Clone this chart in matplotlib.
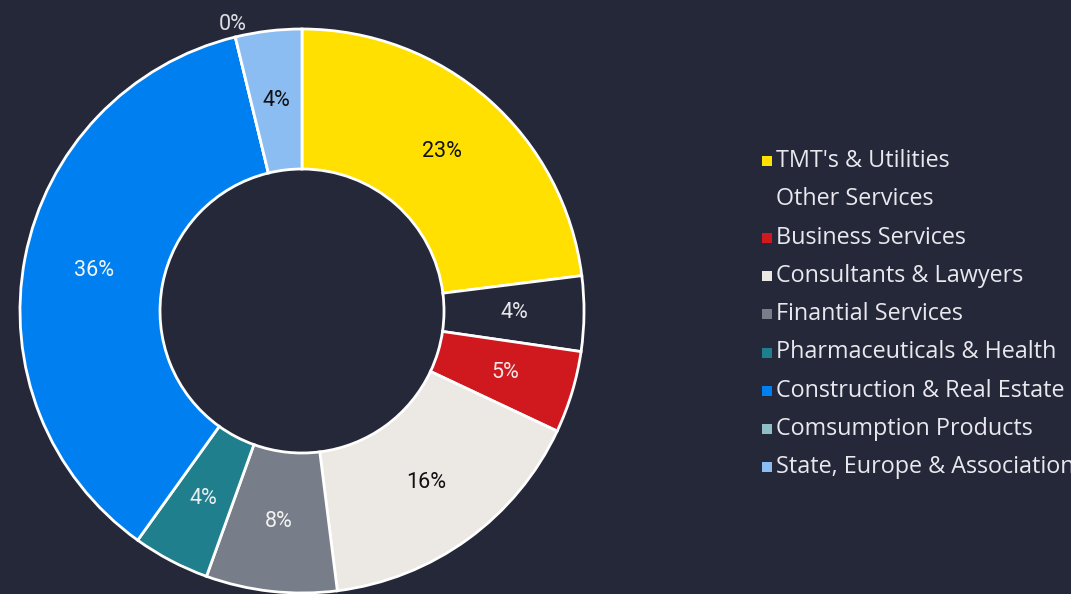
import numpy as np
import matplotlib
matplotlib.use("Agg")
import matplotlib.pyplot as plt
from matplotlib.patches import Rectangle

categories = ["TMT's & Utilities", "Other Services", "Business Services",
              "Consultants & Lawyers", "Finantial Services", "Pharmaceuticals & Health",
              "Construction & Real Estate", "Comsumption Products",
              "State, Europe & Associations"]
values = [23.0, 4.3, 4.7, 16.0, 7.5, 4.4, 36.3, 0.0, 3.8]
colors = ["#FFE000", "#252839", "#D0191E", "#ECE8E3", "#787E89",
          "#1F7F8C", "#0080F0", "#8FBEC4", "#8CBDF2"]
label_colors = ["#111111", "#E6E6EA", "#F0E8E8", "#111111", "#F2F2F2",
                "#E8EEF0", "#F4F4F4", "#DDDDE2", "#111111"]

BG = "#252839"
W, H = 1071, 594
fig = plt.figure(figsize=(W / 100, H / 100), dpi=100, facecolor=BG)

cx, cy, R = 302, 311, 282
ax = fig.add_axes([(cx - R) / W, (H - cy - R) / H, 2 * R / W, 2 * R / H])
ax.set_facecolor(BG)

inner = 142 / 282
wedges, _ = ax.pie(values, colors=colors, startangle=90, counterclock=False,
                   radius=1.0,
                   wedgeprops=dict(width=1 - inner, edgecolor="white", linewidth=2))
ax.set_xlim(-1, 1)
ax.set_ylim(-1, 1)
ax.set_aspect("equal")
ax.axis("off")
for w in wedges:
    w.set_clip_on(False)

total = sum(values)
lab_r = (1 + inner) / 2
for w, v, lc in zip(wedges, values, label_colors):
    ang = np.deg2rad((w.theta1 + w.theta2) / 2)
    r = lab_r if v > 0 else 1.045
    ax.text(r * np.cos(ang), r * np.sin(ang), f"{round(v / total * 100):d}%",
            ha="center", va="center", color=lc, fontsize=15.5, family="Roboto")

# legend
y0, dy = 161, 38.3
for i, (cat, col) in enumerate(zip(categories, colors)):
    y = y0 + i * dy
    fig.patches.append(Rectangle((762 / W, (H - y - 5) / H), 10 / W, 10 / H,
                                 transform=fig.transFigure, facecolor=col,
                                 edgecolor="none"))
    fig.text(776 / W, (H - y) / H, cat, color="#E8E8EE", fontsize=16.8,
             family="Open Sans", va="center", ha="left")

fig.savefig("out.png", dpi=100, facecolor=BG)
